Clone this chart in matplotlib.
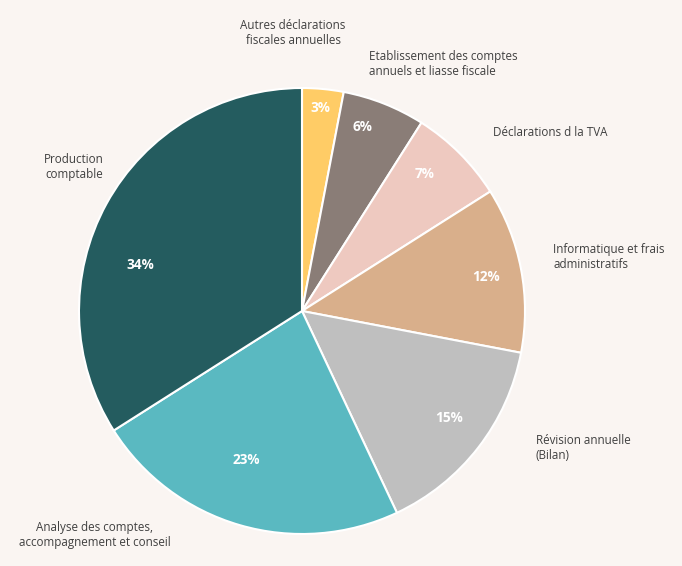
import matplotlib.pyplot as plt

# Répartition des honoraires (%)
categories = [
    "Autres déclarations\nfiscales annuelles",
    "Etablissement des comptes\nannuels et liasse fiscale",
    "Déclarations d la TVA",
    "Informatique et frais\nadministratifs",
    "Révision annuelle\n(Bilan)",
    "Analyse des comptes,\naccompagnement et conseil",
    "Production\ncomptable",
]
values = [3, 6, 7, 12, 15, 23, 34]
colors = ["#FFCC66", "#8A7D77", "#EEC9C0", "#D9AF8B", "#BFBFBF", "#5AB9C1", "#245C5F"]

W, H = 682, 566
bg = "#FAF5F2"

# positions des étiquettes (pixels image), alignement
label_pos = [(293, 33, "center"), (369, 64, "left"), (493, 133, "left"),
             (553, 257, "left"), (536, 448, "left"), (95, 535, "center"),
             (74, 167, "center")]
pct_pos = [(320, 108), (362, 127), (425, 174), (486, 277), (449, 418),
           (246, 460), (140, 265)]

fig = plt.figure(figsize=(W / 100, H / 100), dpi=100, facecolor=bg)
ax = fig.add_axes([0, 0, 1, 1])
ax.set_facecolor(bg)

cx, cy, r = 302, H - 311, 223
ax.pie(values, colors=colors, startangle=90, counterclock=False,
       center=(cx, cy), radius=r,
       wedgeprops=dict(edgecolor="white", linewidth=1.5))

ax.set_xlim(0, W)
ax.set_ylim(0, H)
ax.set_aspect("equal")
ax.axis("off")

for lab, (x, y, ha) in zip(categories, label_pos):
    ax.text(x, H - y, lab, ha=ha, va="center", fontsize=8.4,
            color="#404040", family="Open Sans", linespacing=1.15)

for v, (x, y) in zip(values, pct_pos):
    ax.text(x, H - y, f"{v}%", ha="center", va="center", fontsize=9.8,
            color="white", fontweight="bold", family="Open Sans")

plt.savefig("out.png", dpi=100, facecolor=bg)
plt.close()
